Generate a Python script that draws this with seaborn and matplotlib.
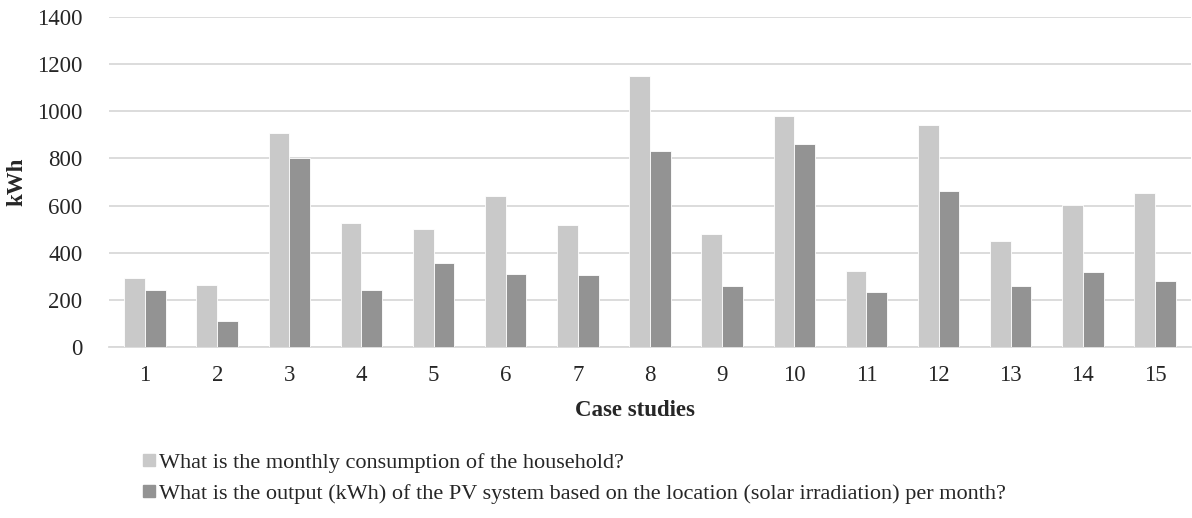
import matplotlib
matplotlib.use("Agg")
import matplotlib.pyplot as plt
from matplotlib.lines import Line2D
import seaborn as sns
import pandas as pd

case_studies = [str(i) for i in range(1, 16)]
consumption = [293, 261, 910, 524, 500, 640, 517, 1150, 481, 980, 320, 942, 451, 602, 652]
pv_output = [243, 110, 800, 243, 355, 310, 306, 830, 259, 862, 233, 661, 256, 316, 281]
series_names = [
    "What is the monthly consumption of the household?",
    "What is the output (kWh) of the PV system based on the location (solar irradiation) per month?",
]
series_colors = ["#C9C9C9", "#939393"]
y_ticks = [0, 200, 400, 600, 800, 1000, 1200, 1400]

df = pd.DataFrame({
    "case": case_studies * 2,
    "kwh": consumption + pv_output,
    "series": [series_names[0]] * len(case_studies) + [series_names[1]] * len(case_studies),
})

sns.set_theme(style="white")
plt.rcParams["font.family"] = ["Liberation Serif", "DejaVu Serif"]

W, H = 1192, 518
fig = plt.figure(figsize=(W / 100, H / 100), dpi=100)
ax_left, ax_right, ax_top, ax_bottom = 109, 1191, 17.3, 346.7
ax = fig.add_axes([ax_left / W, 1 - ax_bottom / H, (ax_right - ax_left) / W, (ax_bottom - ax_top) / H])

sns.barplot(data=df, x="case", y="kwh", hue="series", palette=series_colors,
            width=0.575, edgecolor="white", linewidth=0.6, ax=ax, legend=False,
            saturation=1, zorder=3)

ax.set_ylim(0, 1400)
ax.set_xlim(-0.5, len(case_studies) - 0.5)
ax.set_yticks(y_ticks)
ax.set_yticklabels([str(v) for v in y_ticks], fontsize=16.5)
ax.yaxis.grid(True, color="#D9D9D9", linewidth=1.3, zorder=0)
ax.set_axisbelow(True)
ax.tick_params(axis="y", length=0, pad=19)

ax.set_xticks(range(len(case_studies)))
ax.set_xticklabels(case_studies, fontsize=16.5)
ax.set_xticks([i - 0.5 for i in range(len(case_studies) + 1)], minor=True)
ax.tick_params(axis="x", which="major", length=0, pad=13)
ax.tick_params(axis="x", which="minor", length=5, width=1.3, color="#D9D9D9")

for side in ["top", "right", "left"]:
    ax.spines[side].set_visible(False)
ax.spines["bottom"].set_color("#D9D9D9")
ax.spines["bottom"].set_linewidth(1.3)

ax.set_xlabel("Case studies", fontsize=16.5, fontweight="bold")
ax.xaxis.set_label_coords((635 - ax_left) / (ax_right - ax_left), -(416 - ax_bottom) / (ax_bottom - ax_top))
ax.xaxis.label.set_va("baseline")
ax.set_ylabel("kWh", fontsize=16.5, fontweight="bold")
ax.yaxis.set_label_coords(-(ax_left - 27) / (ax_right - ax_left), 0.5)

handles = [Line2D([], [], marker="s", linestyle="none", markersize=8,
                  markerfacecolor=c, markeredgecolor=c) for c in series_colors]
fig.legend(handles, series_names, loc="upper left", bbox_to_anchor=(143 / W, 1 - 452 / H),
           frameon=False, fontsize=16, handlelength=0.5, handletextpad=0.2,
           labelspacing=0.5, borderaxespad=0, borderpad=0)

fig.savefig("out.png", dpi=100)
